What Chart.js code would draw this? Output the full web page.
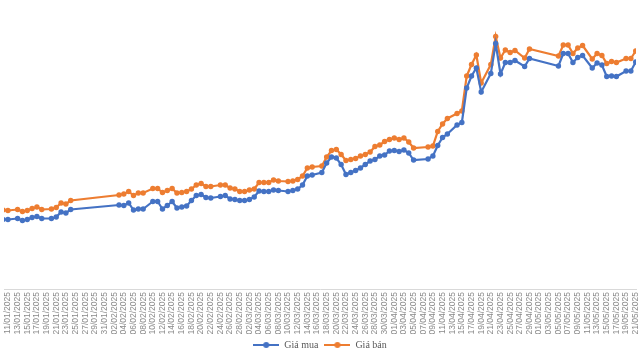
<!DOCTYPE html>
<html>
<head>
<meta charset="utf-8">
<script src="https://cdn.jsdelivr.net/npm/chart.js@4.4.1/dist/chart.umd.min.js"></script>
<style>
  html, body { margin: 0; padding: 0; background: #ffffff; overflow: hidden; }
  #wrap { position: absolute; left: 0; top: 0; width: 640px; height: 360px; }
</style>
</head>
<body>
<div id="wrap"><canvas id="c"></canvas></div>
<script>
// Dates of the observations (dd/mm/yyyy)
const dates = [
  '10/01/2025','11/01/2025','13/01/2025','14/01/2025','15/01/2025','16/01/2025','17/01/2025','18/01/2025','20/01/2025','21/01/2025','22/01/2025','23/01/2025','24/01/2025',
  '03/02/2025','04/02/2025','05/02/2025','06/02/2025','07/02/2025','08/02/2025','10/02/2025','11/02/2025','12/02/2025','13/02/2025','14/02/2025','15/02/2025','16/02/2025','17/02/2025','18/02/2025','19/02/2025','20/02/2025','21/02/2025','22/02/2025','24/02/2025','25/02/2025','26/02/2025','27/02/2025','28/02/2025',
  '01/03/2025','02/03/2025','03/03/2025','04/03/2025','05/03/2025','06/03/2025','07/03/2025','08/03/2025','10/03/2025','11/03/2025','12/03/2025','13/03/2025','14/03/2025','15/03/2025','17/03/2025','18/03/2025','19/03/2025','20/03/2025','21/03/2025','22/03/2025','23/03/2025','24/03/2025','25/03/2025','26/03/2025','27/03/2025','28/03/2025','29/03/2025','30/03/2025','31/03/2025',
  '01/04/2025','02/04/2025','03/04/2025','04/04/2025','05/04/2025','08/04/2025','09/04/2025','10/04/2025','11/04/2025','12/04/2025','14/04/2025','15/04/2025','16/04/2025','17/04/2025','18/04/2025','19/04/2025','21/04/2025','22/04/2025','23/04/2025','24/04/2025','25/04/2025','26/04/2025','28/04/2025','29/04/2025',
  '05/05/2025','06/05/2025','07/05/2025','08/05/2025','09/05/2025','10/05/2025','12/05/2025','13/05/2025','14/05/2025','15/05/2025','16/05/2025','17/05/2025','19/05/2025','20/05/2025','21/05/2025'
];

// Giá mua (buy price)
const giaMua = [
  83.9,83.9,84.1,83.7,83.9,84.3,84.5,84.1,84.1,84.4,85.4,85.2,85.9,
  86.8,86.7,87.2,85.8,86.0,86.0,87.5,87.5,86.0,86.7,87.5,86.2,86.4,86.6,87.7,88.7,88.9,88.3,88.2,88.5,88.7,88.0,87.9,87.7,
  87.7,87.9,88.4,89.6,89.5,89.5,89.8,89.7,89.5,89.7,90.0,90.8,92.6,92.8,93.3,95.2,96.4,96.2,94.9,92.9,93.3,93.7,94.2,94.9,95.6,95.9,96.6,96.8,97.6,
  97.7,97.5,97.8,97.2,95.8,96.0,96.6,98.7,100.3,101.0,102.8,103.3,110.2,112.6,114.2,109.4,113.1,119.1,113.0,115.3,115.3,115.7,114.5,116.1,
  114.6,117.1,117.1,115.3,116.3,116.7,114.2,115.2,114.8,112.5,112.6,112.5,113.6,113.6,115.4
];

// Giá bán (sell price)
const giaBan = [
  85.8,85.7,85.9,85.5,85.7,86.1,86.4,85.9,86.0,86.3,87.2,87.0,87.7,
  88.8,89.0,89.5,88.7,89.2,89.2,90.1,90.1,89.3,89.7,90.1,89.2,89.3,89.5,90.0,90.8,91.1,90.5,90.5,90.8,90.8,90.2,90.0,89.5,
  89.5,89.8,90.0,91.3,91.3,91.3,91.8,91.6,91.5,91.6,91.9,92.6,94.2,94.4,94.6,96.4,97.7,97.9,96.9,95.7,95.9,96.1,96.6,96.9,97.4,98.5,98.8,99.5,99.9,
  100.2,99.9,100.2,99.4,98.2,98.4,98.6,101.5,103.0,104.1,105.1,105.6,112.6,114.9,116.8,111.2,114.9,120.5,116.2,117.8,117.3,117.7,116.2,118.0,
  116.6,118.8,118.8,117.1,118.2,118.7,116.0,117.1,116.7,115.1,115.5,115.3,116.1,116.1,117.6
];

// Axis tick labels (every second day)
const tickLabels = [
  '11/01/2025','13/01/2025','15/01/2025','17/01/2025','19/01/2025','21/01/2025','23/01/2025','25/01/2025','27/01/2025','29/01/2025','31/01/2025',
  '02/02/2025','04/02/2025','06/02/2025','08/02/2025','10/02/2025','12/02/2025','14/02/2025','16/02/2025','18/02/2025','20/02/2025','22/02/2025','24/02/2025','26/02/2025','28/02/2025',
  '02/03/2025','04/03/2025','06/03/2025','08/03/2025','10/03/2025','12/03/2025','14/03/2025','16/03/2025','18/03/2025','20/03/2025','22/03/2025','24/03/2025','26/03/2025','28/03/2025','30/03/2025',
  '01/04/2025','03/04/2025','05/04/2025','07/04/2025','09/04/2025','11/04/2025','13/04/2025','15/04/2025','17/04/2025','19/04/2025','21/04/2025','23/04/2025','25/04/2025','27/04/2025','29/04/2025',
  '01/05/2025','03/05/2025','05/05/2025','07/05/2025','09/05/2025','11/05/2025','13/05/2025','15/05/2025','17/05/2025','19/05/2025','21/05/2025'
];

const seriesNames = ['Giá mua', 'Giá bán'];
const colors = ['#4472C4', '#ED7D31'];

// day index relative to the first tick label
function toUTC(s) { const p = s.split('/'); return Date.UTC(+p[2], +p[1] - 1, +p[0]); }
const base = toUTC(tickLabels[0]);
function dayOf(s) { return Math.round((toUTC(s) - base) / 86400000); }

const tickMap = {};
tickLabels.forEach(l => { tickMap[dayOf(l)] = l; });

function pts(vals) { return dates.map((d, i) => ({ x: dayOf(d), y: vals[i] })); }

function legendIcon(color) {
  const c = document.createElement('canvas');
  c.width = 26; c.height = 8;
  const g = c.getContext('2d');
  g.strokeStyle = color; g.lineWidth = 2;
  g.beginPath(); g.moveTo(0, 4); g.lineTo(26, 4); g.stroke();
  g.fillStyle = color;
  g.beginPath(); g.arc(13, 4, 3, 0, Math.PI * 2); g.fill();
  return c;
}
const icons = colors.map(legendIcon);

new Chart(document.getElementById('c'), {
  type: 'line',
  data: {
    datasets: [
      { label: seriesNames[0], data: pts(giaMua), borderColor: colors[0], backgroundColor: colors[0],
        borderWidth: 2.2, pointRadius: 2.7, pointBorderWidth: 0, tension: 0 },
      { label: seriesNames[1], data: pts(giaBan), borderColor: colors[1], backgroundColor: colors[1],
        borderWidth: 2.2, pointRadius: 2.7, pointBorderWidth: 0, tension: 0 }
    ]
  },
  options: {
    responsive: true,
    maintainAspectRatio: false,
    animation: false,
    devicePixelRatio: 1,
    layout: { padding: { top: 14, left: 0, right: 0, bottom: 0 } },
    scales: {
      x: {
        type: 'linear',
        min: -0.818,
        max: 130.06,
        grid: { display: false, drawTicks: false },
        border: { display: true, color: '#d9d9d9', width: 1 },
        ticks: {
          autoSkip: false, maxRotation: 90, minRotation: 90, padding: 3,
          color: '#8a8a8a', font: { family: 'Liberation Sans', size: 8.5 },
          callback: (v) => tickMap[v] || ''
        },
        afterBuildTicks: (axis) => { axis.ticks = tickLabels.map(l => ({ value: dayOf(l) })); },
        afterFit: (s) => { s.paddingLeft = 0; s.paddingRight = 0; s.height = 45; }
      },
      y: { display: false, min: 70, max: 125 }
    },
    plugins: {
      legend: {
        position: 'bottom',
        labels: {
          usePointStyle: true, pointStyleWidth: 26, padding: 6, boxHeight: 8,
          color: '#595959', font: { family: 'Liberation Serif', size: 10 },
          generateLabels: (chart) => {
            const items = Chart.defaults.plugins.legend.labels.generateLabels(chart);
            items.forEach((it, i) => { it.pointStyle = icons[i]; });
            return items;
          }
        }
      },
      tooltip: { enabled: false }
    }
  }
});
</script>
</body>
</html>
